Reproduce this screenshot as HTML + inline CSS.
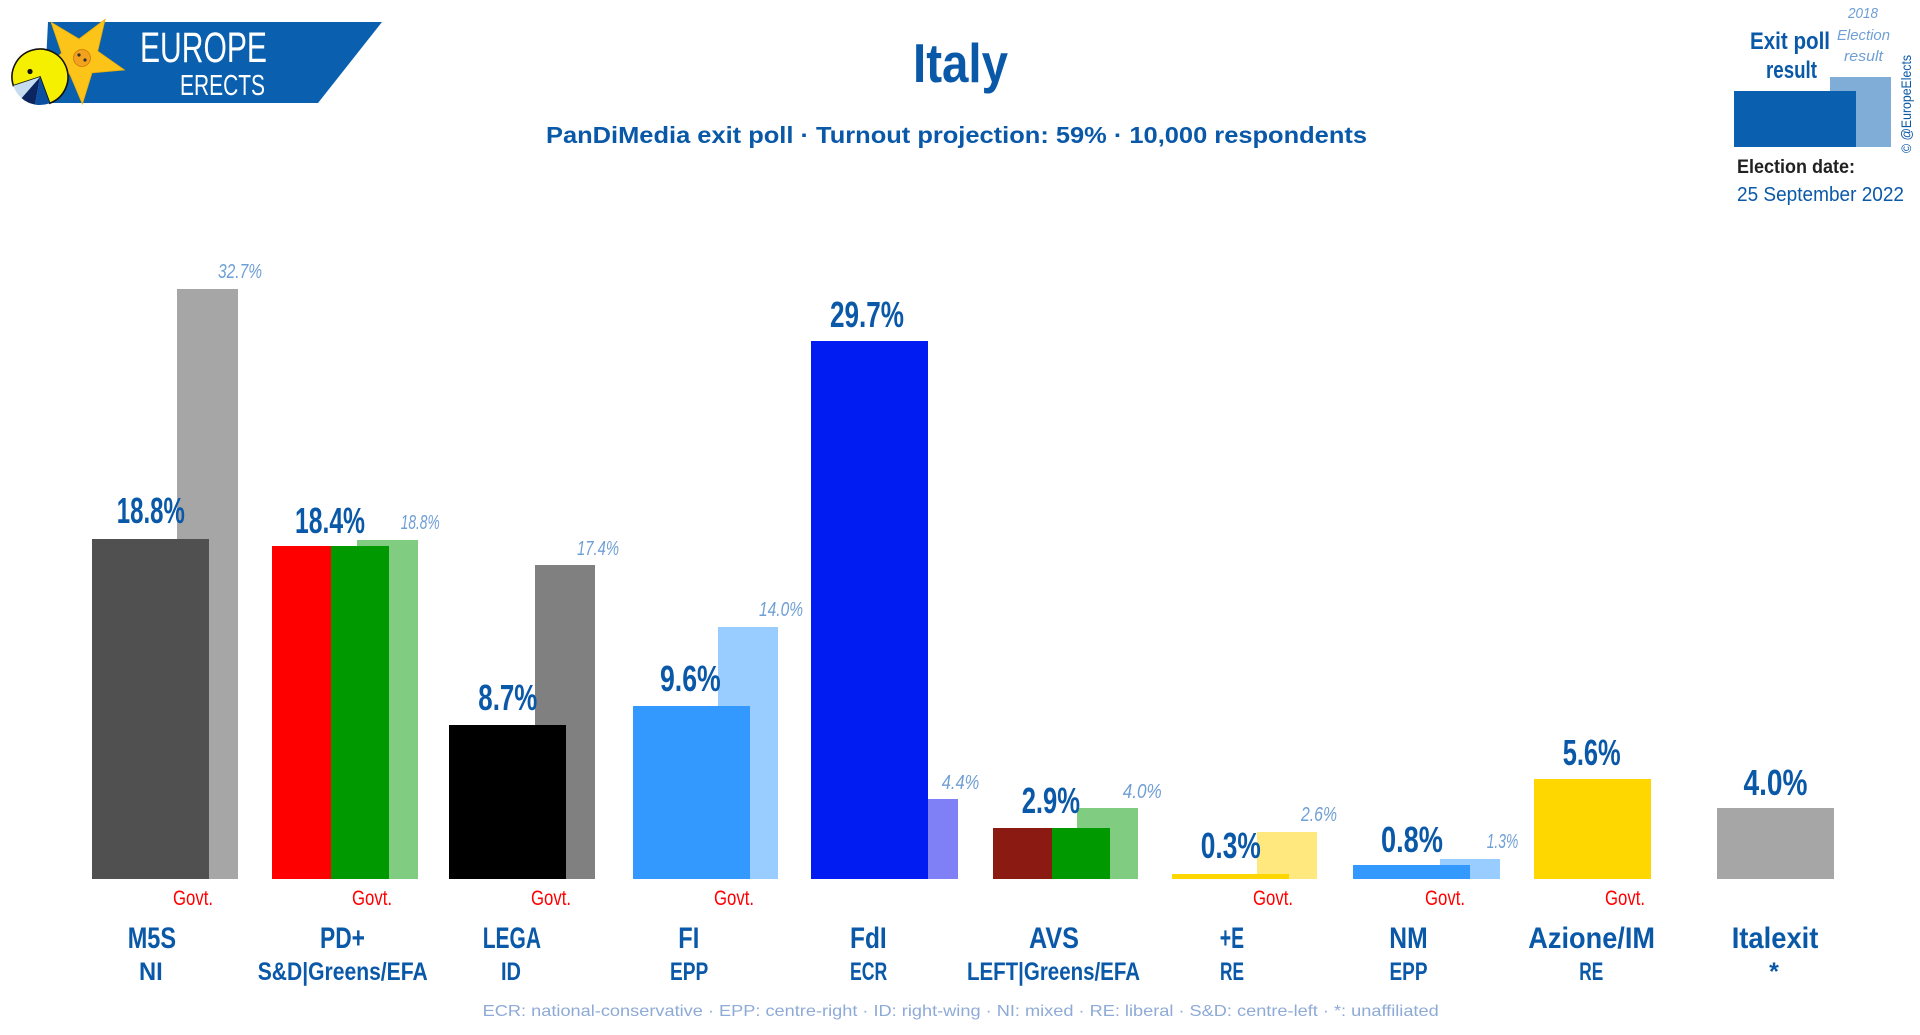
<!DOCTYPE html>
<html>
<head>
<meta charset="utf-8">
<style>
  html, body { margin: 0; padding: 0; background: #ffffff; }
  svg { display: block; }
  text { font-family: "Liberation Sans", "DejaVu Sans", sans-serif; }
</style>
</head>
<body>
<svg width="1920" height="1035" viewBox="0 0 1920 1035" xmlns="http://www.w3.org/2000/svg">
  <rect x="0" y="0" width="1920" height="1035" fill="#ffffff"/>

  <!-- ===== Logo ===== -->
  <polygon points="48,22 382,22 318,103 44,103" fill="#0a5fae"/>
  <polygon points="105.1,19.4 97.7,51.2 124.4,69.9 92.0,72.8 82.4,103.9 69.7,73.9 37.1,74.5 61.6,53.1 51.1,22.3 79.0,39.0" fill="#fcc419" stroke="#f0b000" stroke-width="0.8"/>
  <circle cx="82" cy="58" r="8.5" fill="#f3a21e" stroke="#c77a0a" stroke-width="0.8"/>
  <circle cx="79" cy="55" r="1.6" fill="#333"/>
  <circle cx="85" cy="60" r="1.6" fill="#333"/>
  <!-- pacman -->
  <path d="M40,77 L13.4,85.8 A28,28 0 1 1 49.7,103.3 Z" fill="#f5f000" stroke="#111" stroke-width="1.6"/>
  <path d="M40,77 L49.7,103.3 A28,28 0 0 1 35.1,104.6 Z" fill="#0a4fa0"/>
  <path d="M40,77 L35.1,104.6 A28,28 0 0 1 21.5,98.1 Z" fill="#0b2560"/>
  <path d="M40,77 L21.5,98.1 A28,28 0 0 1 13.4,85.8 Z" fill="#c6dcf0"/>
  <circle cx="30" cy="71.5" r="2.6" fill="#111"/>
  <text x="140" y="62" font-size="43" fill="#ffffff" textLength="127" lengthAdjust="spacingAndGlyphs">EUROPE</text>
  <text x="180" y="95" font-size="29" fill="#ffffff" textLength="85" lengthAdjust="spacingAndGlyphs">ERECTS</text>

  <!-- ===== Title ===== -->
  <text x="913" y="82" font-size="55" font-weight="bold" fill="#0a58a8" textLength="95" lengthAdjust="spacingAndGlyphs">Italy</text>
  <text x="546" y="143" font-size="23" font-weight="bold" fill="#0a58a8" textLength="821" lengthAdjust="spacingAndGlyphs">PanDiMedia exit poll · Turnout projection: 59% · 10,000 respondents</text>

  <!-- ===== Legend (top right) ===== -->
  <text x="1848" y="18" font-size="15" font-style="italic" fill="#6f9fd4" textLength="30" lengthAdjust="spacingAndGlyphs">2018</text>
  <text x="1837" y="40" font-size="15" font-style="italic" fill="#6f9fd4" textLength="53" lengthAdjust="spacingAndGlyphs">Election</text>
  <text x="1844" y="61" font-size="15" font-style="italic" fill="#6f9fd4" textLength="39" lengthAdjust="spacingAndGlyphs">result</text>
  <text x="1750" y="49" font-size="24" font-weight="bold" fill="#0a58a8" textLength="80" lengthAdjust="spacingAndGlyphs">Exit poll</text>
  <text x="1766" y="78" font-size="24" font-weight="bold" fill="#0a58a8" textLength="51" lengthAdjust="spacingAndGlyphs">result</text>
  <rect x="1830" y="77" width="61" height="70" fill="#7fadd8"/>
  <rect x="1734" y="91" width="122" height="56" fill="#0a5fae"/>
  <text x="0" y="0" font-size="14" fill="#0a58a8" transform="translate(1911,153) rotate(-90)" textLength="98" lengthAdjust="spacingAndGlyphs">© @EuropeElects</text>
  <text x="1737" y="173" font-size="19" font-weight="bold" fill="#222222" textLength="118" lengthAdjust="spacingAndGlyphs">Election date:</text>
  <text x="1737" y="201" font-size="20" fill="#0a58a8" textLength="167" lengthAdjust="spacingAndGlyphs">25 September 2022</text>

  <!-- ===== Bars ===== -->
  <!-- M5S -->
  <rect x="177" y="289" width="61" height="590" fill="#a6a6a6"/>
  <rect x="92" y="539" width="117" height="340" fill="#505050"/>
  <!-- PD+ -->
  <rect x="357" y="540" width="61" height="339" fill="#80cc80"/>
  <rect x="272" y="546" width="59" height="333" fill="#ff0000"/>
  <rect x="331" y="546" width="58" height="333" fill="#009900"/>
  <!-- LEGA -->
  <rect x="535" y="565" width="60" height="314" fill="#808080"/>
  <rect x="449" y="725" width="117" height="154" fill="#000000"/>
  <!-- FI -->
  <rect x="718" y="627" width="60" height="252" fill="#99ccff"/>
  <rect x="633" y="706" width="117" height="173" fill="#3399ff"/>
  <!-- FdI -->
  <rect x="896" y="799" width="62" height="80" fill="#8080f6"/>
  <rect x="811" y="341" width="117" height="538" fill="#001cf2"/>
  <!-- AVS -->
  <rect x="1077" y="808" width="61" height="71" fill="#80cc80"/>
  <rect x="993" y="828" width="59" height="51" fill="#8b1a13"/>
  <rect x="1052" y="828" width="58" height="51" fill="#009900"/>
  <!-- +E -->
  <rect x="1257" y="832" width="60" height="47" fill="#ffe97f"/>
  <rect x="1172" y="874" width="117" height="5" fill="#ffd700"/>
  <!-- NM -->
  <rect x="1440" y="859" width="60" height="20" fill="#99ccff"/>
  <rect x="1353" y="865" width="117" height="14" fill="#3399ff"/>
  <!-- Azione -->
  <rect x="1534" y="779" width="117" height="100" fill="#ffd700"/>
  <!-- Italexit -->
  <rect x="1717" y="808" width="117" height="71" fill="#a6a6a6"/>

  <!-- ===== Main value labels ===== -->
  <g font-size="36" font-weight="bold" fill="#0a58a8">
    <text x="116.8" y="523" textLength="68" lengthAdjust="spacingAndGlyphs">18.8%</text>
    <text x="295" y="533" textLength="70" lengthAdjust="spacingAndGlyphs">18.4%</text>
    <text x="478.3" y="710" textLength="59" lengthAdjust="spacingAndGlyphs">8.7%</text>
    <text x="660" y="691" textLength="60.7" lengthAdjust="spacingAndGlyphs">9.6%</text>
    <text x="830" y="327" textLength="74" lengthAdjust="spacingAndGlyphs">29.7%</text>
    <text x="1021.7" y="813" textLength="58.3" lengthAdjust="spacingAndGlyphs">2.9%</text>
    <text x="1200.8" y="858" textLength="60" lengthAdjust="spacingAndGlyphs">0.3%</text>
    <text x="1381" y="852" textLength="62" lengthAdjust="spacingAndGlyphs">0.8%</text>
    <text x="1562.7" y="765" textLength="58" lengthAdjust="spacingAndGlyphs">5.6%</text>
    <text x="1743.5" y="795" textLength="64" lengthAdjust="spacingAndGlyphs">4.0%</text>
  </g>

  <!-- ===== Previous result labels ===== -->
  <g font-size="20" font-style="italic" fill="#6f9fd4">
    <text x="218" y="278" textLength="44" lengthAdjust="spacingAndGlyphs">32.7%</text>
    <text x="400.7" y="529" textLength="39" lengthAdjust="spacingAndGlyphs">18.8%</text>
    <text x="577" y="555" textLength="42" lengthAdjust="spacingAndGlyphs">17.4%</text>
    <text x="759" y="616" textLength="44" lengthAdjust="spacingAndGlyphs">14.0%</text>
    <text x="941.7" y="789" textLength="37.6" lengthAdjust="spacingAndGlyphs">4.4%</text>
    <text x="1122.7" y="798" textLength="39" lengthAdjust="spacingAndGlyphs">4.0%</text>
    <text x="1301" y="821" textLength="36" lengthAdjust="spacingAndGlyphs">2.6%</text>
    <text x="1486.7" y="848" textLength="31.6" lengthAdjust="spacingAndGlyphs">1.3%</text>
  </g>

  <!-- ===== Govt. labels ===== -->
  <g font-size="21" fill="#ff0000">
    <text x="173" y="905" textLength="40" lengthAdjust="spacingAndGlyphs">Govt.</text>
    <text x="352" y="905" textLength="40" lengthAdjust="spacingAndGlyphs">Govt.</text>
    <text x="531" y="905" textLength="40" lengthAdjust="spacingAndGlyphs">Govt.</text>
    <text x="714" y="905" textLength="40" lengthAdjust="spacingAndGlyphs">Govt.</text>
    <text x="1253" y="905" textLength="40" lengthAdjust="spacingAndGlyphs">Govt.</text>
    <text x="1425" y="905" textLength="40" lengthAdjust="spacingAndGlyphs">Govt.</text>
    <text x="1605" y="905" textLength="40" lengthAdjust="spacingAndGlyphs">Govt.</text>
  </g>

  <!-- ===== Party names ===== -->
  <g font-size="30" font-weight="bold" fill="#0a58a8">
    <text x="127.7" y="948" textLength="48.3" lengthAdjust="spacingAndGlyphs">M5S</text>
    <text x="320" y="948" textLength="45" lengthAdjust="spacingAndGlyphs">PD+</text>
    <text x="482.7" y="948" textLength="58.3" lengthAdjust="spacingAndGlyphs">LEGA</text>
    <text x="678.3" y="948" textLength="21" lengthAdjust="spacingAndGlyphs">FI</text>
    <text x="850" y="948" textLength="36.7" lengthAdjust="spacingAndGlyphs">FdI</text>
    <text x="1029" y="948" textLength="50" lengthAdjust="spacingAndGlyphs">AVS</text>
    <text x="1219.8" y="948" textLength="24.3" lengthAdjust="spacingAndGlyphs">+E</text>
    <text x="1389.3" y="948" textLength="38.3" lengthAdjust="spacingAndGlyphs">NM</text>
    <text x="1528.3" y="948" textLength="126.7" lengthAdjust="spacingAndGlyphs">Azione/IM</text>
    <text x="1731.7" y="948" textLength="86.7" lengthAdjust="spacingAndGlyphs">Italexit</text>
  </g>

  <!-- ===== European groups ===== -->
  <g font-size="25" font-weight="bold" fill="#0a58a8">
    <text x="139" y="980" textLength="23.7" lengthAdjust="spacingAndGlyphs">NI</text>
    <text x="257.7" y="980" textLength="170" lengthAdjust="spacingAndGlyphs">S&amp;D|Greens/EFA</text>
    <text x="501" y="980" textLength="20" lengthAdjust="spacingAndGlyphs">ID</text>
    <text x="670" y="980" textLength="38.3" lengthAdjust="spacingAndGlyphs">EPP</text>
    <text x="850" y="980" textLength="37.3" lengthAdjust="spacingAndGlyphs">ECR</text>
    <text x="967" y="980" textLength="173" lengthAdjust="spacingAndGlyphs">LEFT|Greens/EFA</text>
    <text x="1220" y="980" textLength="24" lengthAdjust="spacingAndGlyphs">RE</text>
    <text x="1389.5" y="980" textLength="38" lengthAdjust="spacingAndGlyphs">EPP</text>
    <text x="1579.3" y="980" textLength="24" lengthAdjust="spacingAndGlyphs">RE</text>
    <text x="1774" y="980" text-anchor="middle">*</text>
  </g>

  <!-- ===== Footnote ===== -->
  <text x="482.7" y="1016" font-size="16" fill="#8eaad6" textLength="956" lengthAdjust="spacingAndGlyphs">ECR: national-conservative · EPP: centre-right · ID: right-wing · NI: mixed · RE: liberal · S&amp;D: centre-left · *: unaffiliated</text>
</svg>
</body>
</html>
